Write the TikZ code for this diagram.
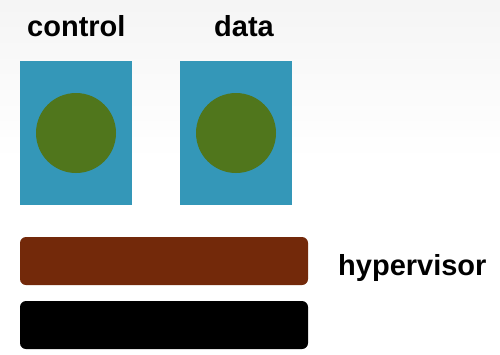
\documentclass[tikz,border=0pt]{standalone}
\usepackage{fontspec}
\setmainfont{Liberation Sans}
\definecolor{vmblue}{HTML}{3497B8}
\definecolor{coregreen}{HTML}{50761C}
\definecolor{hvbrown}{HTML}{73290A}
\begin{document}
\begin{tikzpicture}[x=1pt,y=-1pt,
  vmbox/.style={fill=vmblue,draw=none},
  core/.style={circle,fill=coregreen,draw=none,minimum size=80pt,inner sep=0pt},
  layer/.style={fill=#1,draw=none,rounded corners=6pt},
  lbl/.style={anchor=base west,inner sep=0pt,font=\fontsize{29}{34}\selectfont\bfseries}]
  % page and soft background fade at the top
  \useasboundingbox (0,0) rectangle (500,354);
  \fill[white] (0,0) rectangle (500,354);
  \shade[top color=black!4,bottom color=white] (0,0) rectangle (500,160);
  % domains
  \fill[vmbox] (20,61) rectangle (132,205);
  \fill[vmbox] (180,61) rectangle (292,205);
  \node[core] (cc) at (76,133) {};
  \node[core] (dc) at (236,133) {};
  \node[lbl] (ctl) at (27,36) {control};
  \node[lbl] (dat) at (214,36) {data};
  % layers
  \fill[layer=hvbrown] (20,237) rectangle (308,285);
  \fill[layer=black] (20,301) rectangle (308,349);
  \node[lbl] (hv) at (338,275) {hypervisor};
\end{tikzpicture}
\end{document}
